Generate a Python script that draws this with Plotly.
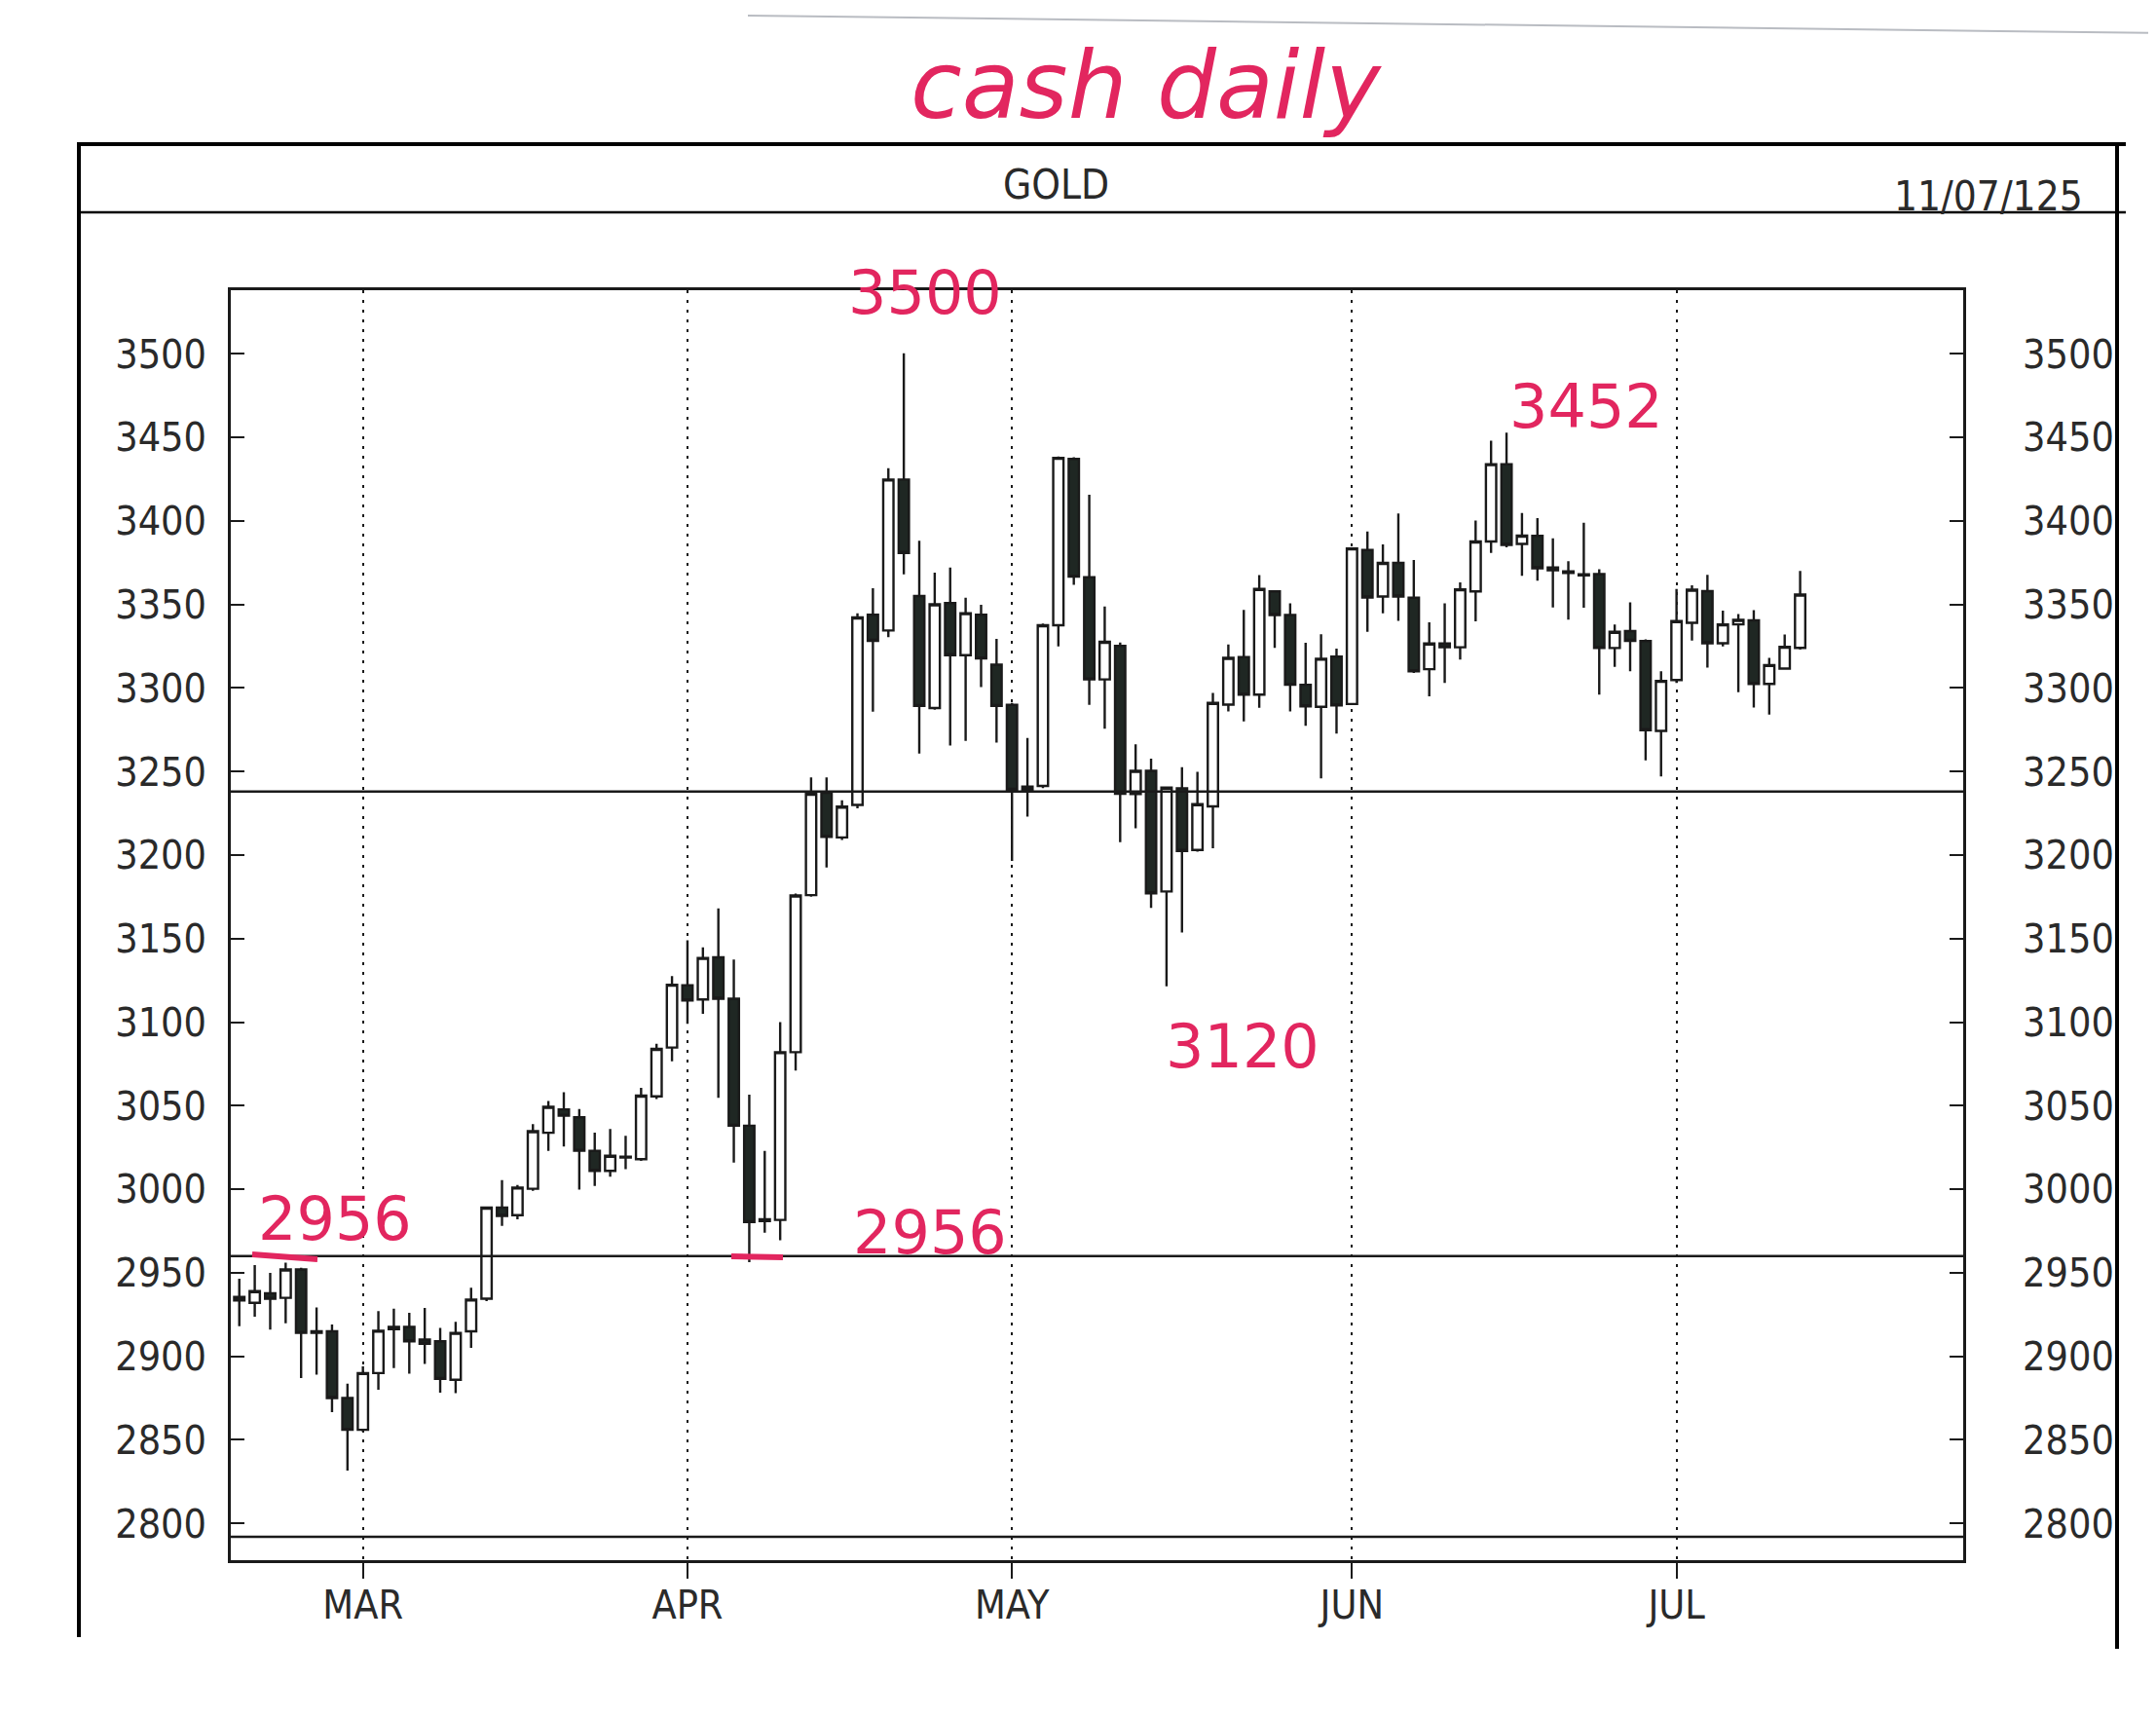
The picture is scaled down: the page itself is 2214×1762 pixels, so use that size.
import plotly.graph_objects as go

# ---------------- data ----------------
dates = [
    "2025-02-19", "2025-02-20", "2025-02-21", "2025-02-24", "2025-02-25", "2025-02-26", "2025-02-27", "2025-02-28",
    "2025-03-03", "2025-03-04", "2025-03-05", "2025-03-06", "2025-03-07", "2025-03-10", "2025-03-11", "2025-03-12",
    "2025-03-13", "2025-03-14", "2025-03-17", "2025-03-18", "2025-03-19", "2025-03-20", "2025-03-21", "2025-03-24",
    "2025-03-25", "2025-03-26", "2025-03-27", "2025-03-28", "2025-03-31",
    "2025-04-01", "2025-04-02", "2025-04-03", "2025-04-04", "2025-04-07", "2025-04-08", "2025-04-09", "2025-04-10",
    "2025-04-11", "2025-04-14", "2025-04-15", "2025-04-16", "2025-04-17", "2025-04-21", "2025-04-22", "2025-04-23",
    "2025-04-24", "2025-04-25", "2025-04-28", "2025-04-29", "2025-04-30",
    "2025-05-01", "2025-05-02", "2025-05-05", "2025-05-06", "2025-05-07", "2025-05-08", "2025-05-09", "2025-05-12",
    "2025-05-13", "2025-05-14", "2025-05-15", "2025-05-16", "2025-05-19", "2025-05-20", "2025-05-21", "2025-05-22",
    "2025-05-23", "2025-05-26", "2025-05-27", "2025-05-28", "2025-05-29", "2025-05-30",
    "2025-06-02", "2025-06-03", "2025-06-04", "2025-06-05", "2025-06-06", "2025-06-09", "2025-06-10", "2025-06-11",
    "2025-06-12", "2025-06-13", "2025-06-16", "2025-06-17", "2025-06-18", "2025-06-19", "2025-06-20", "2025-06-23",
    "2025-06-24", "2025-06-25", "2025-06-26", "2025-06-27", "2025-06-30",
    "2025-07-01", "2025-07-02", "2025-07-03", "2025-07-04", "2025-07-07", "2025-07-08", "2025-07-09", "2025-07-10",
    "2025-07-11",
]

opens = [
    2935.5, 2932.0, 2937.7, 2935.0, 2952.0, 2914.0, 2915.0, 2875.0,
    2856.0, 2890.0, 2916.3, 2917.6, 2910.0, 2909.0, 2886.0, 2915.0,
    2934.5, 2989.0, 2984.5, 3000.3, 3033.8, 3047.8, 3043.0, 3023.0,
    3011.0, 3019.0, 3018.0, 3055.6, 3084.8,
    3122.0, 3113.6, 3138.8, 3114.0, 3038.0, 2981.0, 2981.6, 3082.0,
    3176.0, 3237.3, 3210.5, 3230.0, 3343.8, 3334.4, 3424.7, 3355.0,
    3288.0, 3350.8, 3319.6, 3343.8, 3313.9,
    3289.9, 3239.2, 3241.3, 3337.5, 3437.0, 3366.2, 3305.1, 3325.1,
    3236.5, 3250.4, 3178.2, 3239.9, 3203.0, 3229.1, 3290.0, 3318.5,
    3296.0, 3357.8, 3343.6, 3301.9, 3288.7, 3318.7,
    3290.4, 3382.5, 3354.7, 3374.8, 3354.0, 3311.2, 3326.6, 3324.3,
    3357.8, 3387.6, 3433.9, 3386.2, 3391.0, 3372.0, 3369.8, 3368.0,
    3368.1, 3323.9, 3334.0, 3328.0, 3274.3,
    3304.7, 3339.0, 3357.9, 3326.7, 3338.0, 3340.4, 3302.4, 3311.6,
    3324.0,
]

highs = [
    2946.5, 2954.6, 2950.0, 2956.0, 2953.0, 2929.3, 2919.0, 2883.6,
    2894.0, 2927.0, 2928.5, 2926.0, 2929.0, 2917.0, 2920.6, 2941.0,
    2989.6, 3005.5, 3002.6, 3039.0, 3052.8, 3058.0, 3048.0, 3033.8,
    3036.0, 3032.0, 3060.6, 3087.0, 3127.6,
    3149.0, 3144.8, 3168.0, 3137.4, 3056.6, 3023.0, 3100.0, 3177.0,
    3246.4, 3246.4, 3232.8, 3344.7, 3359.7, 3431.5, 3500.2, 3388.0,
    3369.0, 3372.0, 3354.0, 3349.8, 3329.3,
    3291.0, 3270.0, 3338.6, 3438.5, 3438.1, 3415.6, 3348.7, 3327.2,
    3266.2, 3257.6, 3241.0, 3252.5, 3249.8, 3297.0, 3326.0, 3346.7,
    3367.5, 3358.5, 3350.6, 3327.0, 3332.1, 3323.5,
    3384.0, 3393.6, 3385.9, 3404.4, 3376.6, 3339.3, 3350.6, 3363.2,
    3400.2, 3447.9, 3452.8, 3404.7, 3401.6, 3389.5, 3375.9, 3398.9,
    3371.0, 3337.9, 3351.2, 3329.0, 3310.0,
    3359.2, 3361.4, 3367.6, 3346.2, 3344.2, 3346.6, 3318.0, 3332.0,
    3370.0,
]

lows = [
    2918.0, 2923.7, 2916.0, 2919.8, 2887.0, 2889.0, 2866.6, 2831.6,
    2855.0, 2880.0, 2893.0, 2889.6, 2895.5, 2878.3, 2878.0, 2905.0,
    2933.0, 2978.0, 2982.0, 2999.0, 3023.0, 3025.6, 2999.7, 3002.0,
    3007.5, 3012.0, 3017.0, 3054.0, 3076.6,
    3099.0, 3105.0, 3054.7, 3016.0, 2956.3, 2974.0, 2969.4, 3071.0,
    3175.0, 3192.5, 3209.0, 3228.0, 3285.8, 3330.3, 3367.9, 3260.7,
    3287.0, 3265.6, 3268.3, 3300.5, 3267.3,
    3196.5, 3223.0, 3240.0, 3324.9, 3361.7, 3289.8, 3275.6, 3207.7,
    3216.0, 3168.3, 3121.4, 3153.6, 3202.0, 3204.0, 3286.0, 3279.9,
    3288.1, 3324.0, 3286.0, 3277.4, 3245.8, 3272.7,
    3290.0, 3333.6, 3344.6, 3340.1, 3309.0, 3295.0, 3303.0, 3316.9,
    3339.9, 3380.8, 3384.1, 3367.1, 3364.2, 3348.2, 3340.8, 3348.0,
    3296.0, 3312.6, 3310.0, 3256.6, 3247.0,
    3303.0, 3328.3, 3312.1, 3324.8, 3297.5, 3288.2, 3284.0, 3311.0,
    3323.0,
]

closes = [
    2933.5, 2939.0, 2934.4, 2952.0, 2914.0, 2915.0, 2875.0, 2856.0,
    2890.0, 2915.3, 2917.6, 2909.0, 2907.5, 2886.5, 2914.0, 2934.0,
    2989.0, 2984.0, 3001.0, 3034.7, 3049.3, 3044.0, 3023.0, 3011.0,
    3020.0, 3019.5, 3056.0, 3084.0, 3122.4,
    3113.0, 3138.4, 3114.0, 3038.0, 2980.3, 2982.0, 3082.0, 3175.8,
    3236.7, 3210.8, 3229.0, 3342.2, 3328.2, 3424.7, 3380.8, 3289.2,
    3350.0, 3319.6, 3344.7, 3317.6, 3289.2,
    3239.0, 3241.0, 3337.5, 3437.7, 3366.6, 3305.1, 3327.6, 3236.7,
    3250.4, 3177.1, 3240.3, 3202.4, 3230.4, 3291.0, 3318.0, 3296.0,
    3359.2, 3343.6, 3301.9, 3289.0, 3317.5, 3289.5,
    3383.5, 3354.1, 3374.8, 3354.7, 3310.0, 3326.6, 3324.3, 3359.0,
    3387.6, 3433.9, 3385.6, 3391.1, 3371.6, 3370.4, 3368.8, 3367.4,
    3323.9, 3333.6, 3328.2, 3274.7, 3304.2,
    3340.0, 3358.8, 3326.7, 3338.0, 3340.7, 3302.4, 3313.7, 3324.6,
    3355.9,
]

month_tick_dates = ["2025-03-03", "2025-04-01", "2025-05-01", "2025-06-02", "2025-07-01"]
month_tick_labels = ["MAR", "APR", "MAY", "JUN", "JUL"]

level_lines = [2960, 3238, 2792]          # horizontal ruled lines
note_labels = ["3500", "3452", "3120", "2956", "2956"]
chart_name = "GOLD"
chart_date = "11/07/125"
hand_title = "cash daily"

# ---------------- geometry helpers ----------------
W, H = 2214, 1762
L, R, T, B = 229, 206, 290, 168
PW, PH = W - L - R, H - T - B
Y_RANGE = [2778, 3538]


def fx(x):
    return (x - L) / PW


def fy(y):
    return (H - B - y) / PH


INK = "#1a1a1a"
PINK = "#e2265f"
TICKFONT = dict(family="Liberation Sans Narrow, DejaVu Sans Condensed, Liberation Sans, sans-serif",
                size=41, color="#2a2a2a")

fig = go.Figure()
fig.add_trace(go.Candlestick(
    x=dates, open=opens, high=highs, low=lows, close=closes,
    increasing=dict(fillcolor="white", line=dict(color=INK, width=2.4)),
    decreasing=dict(fillcolor="#1f2723", line=dict(color=INK, width=2.4)),
    whiskerwidth=0, showlegend=False, hoverinfo="x+y",
))
fig.add_trace(go.Scatter(
    x=dates, y=closes, yaxis="y2", mode="markers",
    marker=dict(opacity=0), hoverinfo="skip", showlegend=False,
))

shapes = []
for lv in level_lines:
    shapes.append(dict(type="line", xref="paper", yref="y", x0=0, x1=1, y0=lv, y1=lv,
                       line=dict(color=INK, width=2.5)))

# page frame & header band
frame = dict(color="black", width=4)
shapes += [
    dict(type="line", xref="paper", yref="paper", x0=fx(73), x1=fx(2175), y0=fy(140), y1=fy(140), line=frame),
    dict(type="line", xref="paper", yref="paper", x0=fx(73), x1=fx(73), y0=fy(138), y1=fy(1673), line=frame),
    dict(type="line", xref="paper", yref="paper", x0=fx(2166), x1=fx(2166), y0=fy(140), y1=fy(1685), line=frame),
    dict(type="line", xref="paper", yref="paper", x0=fx(73), x1=fx(2175), y0=fy(210), y1=fy(210),
         line=dict(color="black", width=2.5)),
    dict(type="line", xref="paper", yref="paper", x0=fx(760), x1=fx(2214), y0=fy(8), y1=fy(26),
         line=dict(color="#b9bcc2", width=2)),
]
# hand-drawn underlines
shapes += [
    dict(type="line", xref="paper", yref="paper", x0=fx(251), x1=fx(318), y0=fy(1280), y1=fy(1285),
         line=dict(color=PINK, width=6)),
    dict(type="line", xref="paper", yref="paper", x0=fx(743), x1=fx(796), y0=fy(1282), y1=fy(1283),
         line=dict(color=PINK, width=6)),
]

hand_font = dict(family="DejaVu Sans, sans-serif", size=62, color=PINK)
note_pos = [(942, 292), (1621, 409), (1268, 1066), (336, 1243), (947, 1257)]
annotations = []
for txt, (ax, ay) in zip(note_labels, note_pos):
    annotations.append(dict(text=txt, xref="paper", yref="paper", x=fx(ax), y=fy(ay),
                            xanchor="center", yanchor="middle", showarrow=False, font=hand_font))
annotations += [
    dict(text=hand_title, xref="paper", yref="paper", x=fx(1169), y=fy(80), xanchor="center",
         yanchor="middle", showarrow=False,
         font=dict(family="DejaVu Sans, sans-serif", size=96, color=PINK, style="italic")),
    dict(text=chart_name, xref="paper", yref="paper", x=fx(1076), y=fy(181), xanchor="center",
         yanchor="middle", showarrow=False, font=dict(TICKFONT, size=42)),
    dict(text=chart_date, xref="paper", yref="paper", x=fx(2034), y=fy(193), xanchor="center",
         yanchor="middle", showarrow=False, font=dict(TICKFONT, size=42)),
]

fig.update_layout(
    width=W, height=H,
    margin=dict(l=L, r=R, t=T, b=B, pad=0),
    paper_bgcolor="white", plot_bgcolor="white",
    showlegend=False, boxgap=0.05,
    shapes=shapes, annotations=annotations,
    xaxis=dict(
        type="category", categoryorder="array", categoryarray=dates,
        range=[-0.55, 111.55],
        tickmode="array", tickvals=month_tick_dates, ticktext=month_tick_labels,
        showgrid=True, gridcolor=INK, gridwidth=2, griddash="3px,7px",
        ticks="outside", ticklen=16, tickwidth=2, tickcolor=INK,
        showline=True, linecolor=INK, linewidth=2.5, mirror=True,
        rangeslider=dict(visible=False), zeroline=False,
        tickfont=TICKFONT, ticklabelstandoff=-8,
    ),
    yaxis=dict(
        range=Y_RANGE, tick0=2800, dtick=50,
        ticks="inside", ticklen=14, tickwidth=2, tickcolor=INK,
        showgrid=False, zeroline=False,
        showline=True, linecolor=INK, linewidth=2.5, mirror=True,
        tickfont=TICKFONT, ticklabelstandoff=14,
    ),
    yaxis2=dict(
        range=Y_RANGE, tick0=2800, dtick=50, overlaying="y", side="right",
        ticks="inside", ticklen=14, tickwidth=2, tickcolor=INK,
        showgrid=False, zeroline=False, showline=False,
        tickfont=TICKFONT, ticklabelstandoff=60,
    ),
)

fig.write_html("out.html")
